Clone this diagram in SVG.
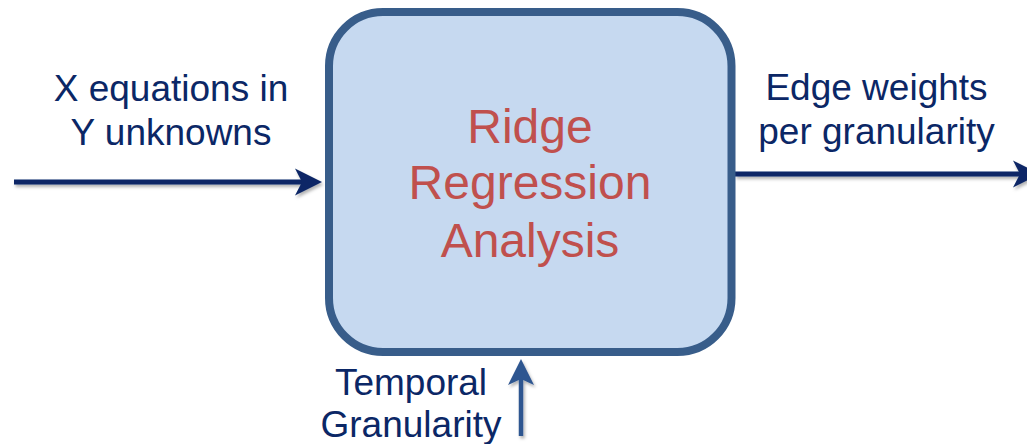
<svg xmlns="http://www.w3.org/2000/svg" width="1027" height="444" viewBox="0 0 1027 444">
  <defs>
    <style>
      .label { font-family: "Liberation Sans", Arial, sans-serif; font-size: 37px; fill: #0b2766; text-anchor: middle; }
      .title { font-family: "Liberation Sans", Arial, sans-serif; font-size: 48px; fill: #c0504d; text-anchor: middle; }
      .box { fill: #c6d9f0; stroke: #385d8a; stroke-width: 8; }
      .flow { fill: none; stroke: #0b2766; stroke-width: 5; }
      .feed { fill: none; stroke: #2e5690; stroke-width: 4.5; }
    </style>
    <filter id="shadow" x="-10%" y="-50%" width="120%" height="200%">
      <feDropShadow dx="1.5" dy="2.5" stdDeviation="1.5" flood-color="#000" flood-opacity="0.3"/>
    </filter>
    <!-- stealth arrowheads; refX sits on the notch so the shaft ends inside the head -->
    <marker id="headDark" markerUnits="userSpaceOnUse" markerWidth="28" markerHeight="27" refX="7" refY="13.5" orient="auto" overflow="visible">
      <path d="M0,0 L27,13.5 L0,27 L7,13.5 Z" fill="#0b2766"/>
    </marker>
    <marker id="headLight" markerUnits="userSpaceOnUse" markerWidth="26" markerHeight="26" refX="6" refY="13" orient="auto" overflow="visible">
      <path d="M0,0 L26,13 L0,26 L6,13 Z" fill="#2e5690"/>
    </marker>
  </defs>

  <g id="connectors" filter="url(#shadow)">
    <line id="edge-input" class="flow" x1="14" y1="182" x2="302" y2="182" marker-end="url(#headDark)"/>
    <line id="edge-output" class="flow" x1="735" y1="174" x2="1020" y2="174" marker-end="url(#headDark)"/>
    <line id="edge-granularity" class="feed" x1="521" y1="436" x2="521" y2="379" marker-end="url(#headLight)"/>
  </g>

  <g id="node-ridge">
    <rect class="box" x="329" y="12" width="402.5" height="340" rx="54" ry="54"/>
    <text class="title" x="530" y="142.5">Ridge</text>
    <text class="title" x="530" y="199">Regression</text>
    <text class="title" x="530" y="257">Analysis</text>
  </g>

  <g id="node-input">
    <text class="label" x="171" y="101">X equations in</text>
    <text class="label" x="171" y="145">Y unknowns</text>
  </g>

  <g id="node-output">
    <text class="label" x="876.5" y="100">Edge weights</text>
    <text class="label" x="876.5" y="144">per granularity</text>
  </g>

  <g id="node-granularity">
    <text class="label" x="411" y="395">Temporal</text>
    <text class="label" x="411" y="437">Granularity</text>
  </g>
</svg>
